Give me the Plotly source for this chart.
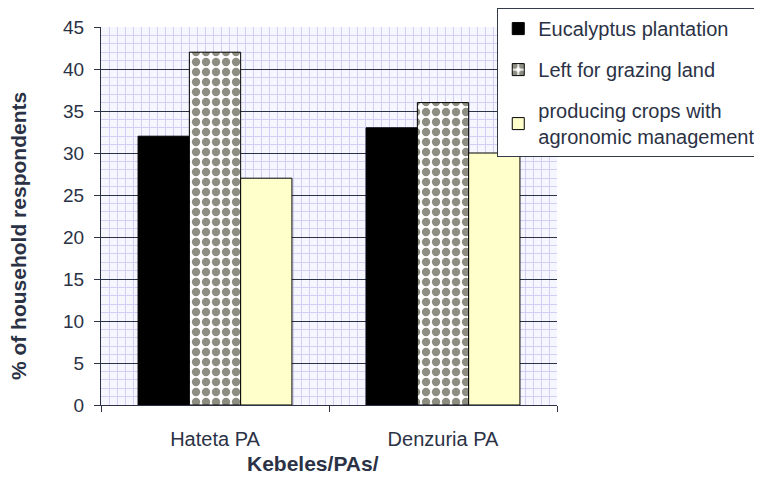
import plotly.graph_objects as go

categories = ["Hateta PA", "Denzuria PA"]
eucalyptus = [32, 33]
grazing = [42, 36]
crops = [27, 30]
series_names = ["Eucalyptus plantation", "Left for grazing land",
                "producing crops with<br>agronomic management"]
y_ticks = [0, 5, 10, 15, 20, 25, 30, 35, 40, 45]
x_title = "<b>Kebeles/PAs/</b>"
y_title = "<b>% of household respondents</b>"

FONT = "Liberation Sans, Arial, sans-serif"
TXT = "#2b3245"

fig = go.Figure()
fig.add_trace(go.Bar(x=categories, y=eucalyptus, name=series_names[0],
                     legendgroup="a",
                     marker=dict(color="#000000", line=dict(color="#000000", width=1))))
fig.add_trace(go.Bar(x=categories, y=grazing, name=series_names[1],
                     legendgroup="b",
                     marker=dict(color="#ffffff", line=dict(color="#000000", width=1),
                                 pattern=dict(shape=".", size=10, solidity=0.55,
                                              fgcolor="#1c1c04", bgcolor="#ffffff",
                                              fillmode="overlay"))))
fig.add_trace(go.Bar(x=categories, y=crops, name=series_names[2],
                     legendgroup="c",
                     marker=dict(color="#ffffcc", line=dict(color="#000000", width=1))))
# invisible helper trace for the background grid overlay (fine vertical + major horizontal)
fig.add_trace(go.Scatter(x=[0], y=[0], xaxis="x2", yaxis="y2", mode="markers",
                         marker=dict(opacity=0), showlegend=False, hoverinfo="skip"))

# page body has an 8px default margin, so the figure is offset by 8px
fig.update_layout(
    width=754, height=471,
    margin=dict(l=93, r=205, t=19, b=74, autoexpand=False),
    paper_bgcolor="white",
    plot_bgcolor="#f6f6ff",
    barmode="group",
    bargap=0.325,
    bargroupgap=0,
    font=dict(family=FONT, color=TXT, size=20),
    showlegend=True,
    legend=dict(x=0.869, y=1.05, xanchor="left", yanchor="top",
                bgcolor="white", bordercolor="#333a4a", borderwidth=1,
                font=dict(family=FONT, size=20, color=TXT),
                tracegroupgap=12, itemwidth=30),
    xaxis=dict(
        type="category", automargin=False,
        showline=True, linecolor="#2b3245", linewidth=1,
        ticks="outside", ticklen=6, tickcolor="#2b3245",
        tickson="boundaries", showgrid=False,
        tickfont=dict(size=20, color=TXT), ticklabelstandoff=16,
    ),
    xaxis2=dict(
        overlaying="x", range=[0, 57], dtick=1, showgrid=True,
        gridcolor="#d0d0f6", gridwidth=1, showticklabels=False,
        zeroline=False, showline=False, ticks="",
    ),
    yaxis=dict(
        range=[0, 45], tickvals=y_ticks, automargin=False,
        showline=True, linecolor="#2b3245", linewidth=1,
        ticks="outside", ticklen=6, tickcolor="#2b3245",
        showgrid=False, zeroline=False,
        minor=dict(dtick=1, showgrid=True, gridcolor="#d0d0f6", gridwidth=1, ticks=""),
        tickfont=dict(size=19, color=TXT), ticklabelstandoff=6,
    ),
    yaxis2=dict(
        overlaying="y", range=[0, 45], tickvals=y_ticks,
        showgrid=True, gridcolor="#2b3245", gridwidth=1,
        showticklabels=False, zeroline=False, showline=False, ticks="",
    ),
    annotations=[
        dict(text=x_title, xref="paper", yref="paper", x=0.465, y=-0.156,
             xanchor="center", yanchor="middle", showarrow=False,
             font=dict(size=21, color=TXT, family=FONT)),
        dict(text=y_title, xref="paper", yref="paper", x=-0.182, y=0.447,
             xanchor="center", yanchor="middle", showarrow=False, textangle=-90,
             font=dict(size=21, color=TXT, family=FONT)),
    ],
)

fig.write_html("out.html")
